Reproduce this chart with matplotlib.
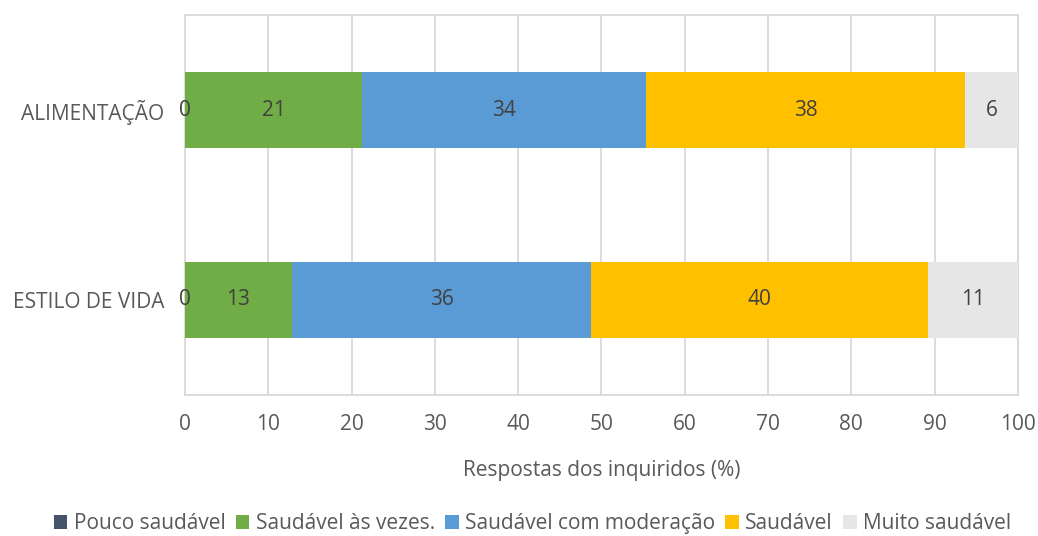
import matplotlib.pyplot as plt
import numpy as np

# DATA
categories = ['ESTILO DE VIDA', 'ALIMENTAÇÃO']
series_names = ['Pouco saudável', 'Saudável às vezes.', 'Saudável com moderação',
                'Saudável', 'Muito saudável']
# percentages per category (bottom -> top), one list per series
pouco = [0.0, 0.0]
as_vezes = [12.8, 21.3]
moderacao = [36.0, 34.0]
saudavel = [40.4, 38.4]
muito = [10.8, 6.3]
# labels as shown on the chart
labels_pouco = [0, 0]
labels_as_vezes = [13, 21]
labels_moderacao = [36, 34]
labels_saudavel = [40, 38]
labels_muito = [11, 6]

colors = ['#44546A', '#70AD47', '#5B9BD5', '#FFC000', '#E7E6E6']
text_color = '#595959'
fs = 15

plt.rcParams['font.family'] = ['Open Sans', 'DejaVu Sans']

fig = plt.figure(figsize=(10.38, 5.36), dpi=100)
ax = fig.add_axes([0.1782, 0.2631, 0.8025, 0.7089])

y = np.arange(len(categories))
left = np.zeros(len(categories))
all_values = [pouco, as_vezes, moderacao, saudavel, muito]
all_labels = [labels_pouco, labels_as_vezes, labels_moderacao, labels_saudavel, labels_muito]
for vals, labs, name, col in zip(all_values, all_labels, series_names, colors):
    vals = np.array(vals)
    ax.barh(y, vals, left=left, height=0.4, color=col, label=name, zorder=3)
    for yi, (l, v, lab) in enumerate(zip(left, vals, labs)):
        ax.text(l + v / 2, yi, str(lab), ha='center', va='center',
                fontsize=fs, color='#404040', zorder=4)
    left = left + vals

ax.set_xlim(0, 100)
ax.set_ylim(-0.5, 1.5)
ax.set_xticks(np.arange(0, 101, 10))
ax.set_yticks(y)
ax.set_yticklabels(categories)
ax.tick_params(axis='both', length=0, labelsize=fs, labelcolor=text_color)
ax.tick_params(axis='x', pad=14)
ax.tick_params(axis='y', pad=15)
ax.grid(axis='x', color='#D9D9D9', linewidth=1.3, zorder=0)
for s in ax.spines.values():
    s.set_color('#D9D9D9')
    s.set_linewidth(1.3)

ax.set_xlabel('Respostas dos inquiridos (%)', fontsize=fs, color=text_color, labelpad=18)

fig.legend(loc='center', bbox_to_anchor=(0.513, 0.023), ncol=5, frameon=False,
           fontsize=fs, labelcolor=text_color, handlelength=0.65, handleheight=0.65,
           handletextpad=0.3, columnspacing=0.5)

fig.savefig('out.png', dpi=100)
